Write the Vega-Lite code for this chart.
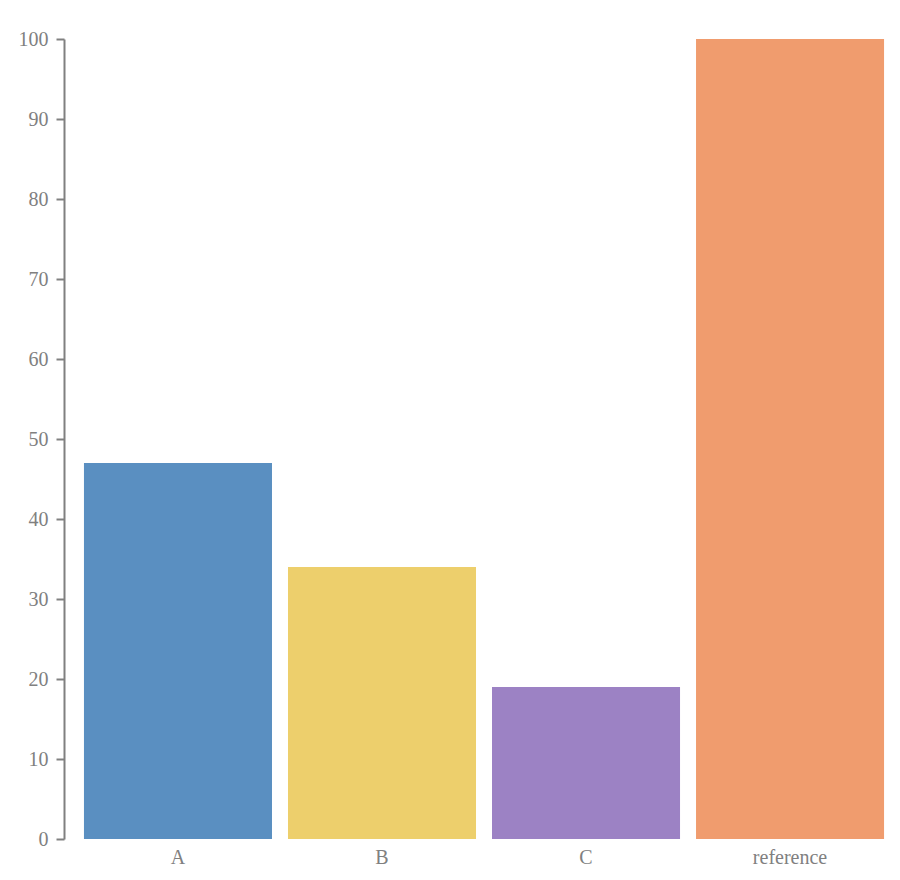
{
  "$schema": "https://vega.github.io/schema/vega-lite/v6.json",
  "autosize": "none",
  "width": 836,
  "height": 800,
  "padding": {"left": 64, "top": 39, "right": 0, "bottom": 41},
  "background": "white",
  "config": {
    "view": {"stroke": null},
    "font": "Liberation Serif"
  },
  "data": {
    "values": [
      {"name": "A", "value": 47},
      {"name": "B", "value": 34},
      {"name": "C", "value": 19},
      {"name": "reference", "value": 100}
    ]
  },
  "mark": "bar",
  "encoding": {
    "x": {
      "field": "name",
      "type": "nominal",
      "sort": null,
      "title": null,
      "scale": {"paddingInner": 0.0784, "paddingOuter": 0.088, "align": 0.556},
      "axis": {
        "domain": false,
        "ticks": false,
        "labelAngle": 0,
        "labelPadding": 8,
        "labelFontSize": 20,
        "labelColor": "#808080",
        "labelFont": "Liberation Serif"
      }
    },
    "y": {
      "field": "value",
      "type": "quantitative",
      "title": null,
      "scale": {"domain": [0, 100], "nice": false},
      "axis": {
        "values": [0, 10, 20, 30, 40, 50, 60, 70, 80, 90, 100],
        "grid": false,
        "domainColor": "#808080",
        "domainWidth": 2,
        "tickColor": "#808080",
        "tickWidth": 2,
        "tickSize": 8,
        "labelPadding": 8,
        "labelFontSize": 20,
        "labelColor": "#808080",
        "labelFont": "Liberation Serif"
      }
    },
    "color": {
      "field": "name",
      "type": "nominal",
      "legend": null,
      "scale": {
        "domain": ["A", "B", "C", "reference"],
        "range": ["#5a8fc1", "#edcf6c", "#9c82c4", "#f09c6e"]
      }
    }
  }
}
